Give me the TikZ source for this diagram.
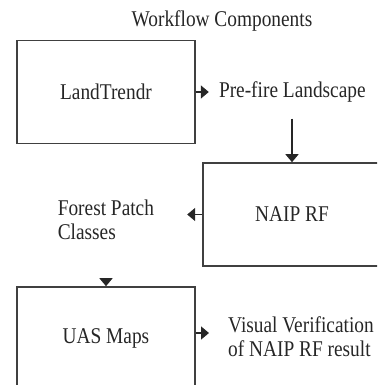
\documentclass[tikz,border=0pt]{standalone}
\usepackage{fontspec}
\setmainfont[FakeStretch=0.86]{Liberation Serif}
\usetikzlibrary{positioning,arrows.meta}

\begin{document}
\begin{tikzpicture}[>={Triangle[length=8pt,width=13pt]}, x=1pt, y=-1pt, node distance=23pt,
    every node/.style={font=\fontsize{22.5}{24}\selectfont, text=black!85}]
    \tikzstyle{box}=[rectangle,draw=black!75,line width=1.6pt,align=center,minimum width=178pt,minimum height=103pt]
    \tikzstyle{txt}=[inner sep=0pt,align=left]
    \tikzstyle{link}=[->,draw=black!85,line width=1.6pt]
    \clip (0,0) rectangle (377,385);
    \node[txt] (title) at (222,21) {Workflow Components};
    \node[box] (landtrendr) at (106,92) {LandTrendr};
    \node[txt,right=of landtrendr] (prefire) {Pre-fire Landscape};
    \node[box] (naip) at (292,214.5) {NAIP RF};
    \node[txt,left=48pt of naip,yshift=-5pt] (forest) {Forest Patch\\Classes};
    \node[box] (uas) at (106,338.5) {UAS Maps};
    \node[txt,anchor=west] (visual) at (228,337) {Visual Verification\\of NAIP RF result};
    \coordinate (vtip) at ([yshift=4pt]visual.west);
    \draw[link,shorten >=10pt] (landtrendr.east |- prefire.west) -- (prefire.west);
    \draw[link,shorten <=16pt] (prefire.south -| naip.north) -- (naip.north);
    \draw[link,shorten >=33pt] (naip.west) -- (naip.west -| forest.east);
    \draw[link,shorten <=39pt] (forest.south -| uas.north) -- (uas.north);
    \draw[link,shorten >=19pt] (vtip -| uas.east) -- (vtip);
\end{tikzpicture}
\end{document}
